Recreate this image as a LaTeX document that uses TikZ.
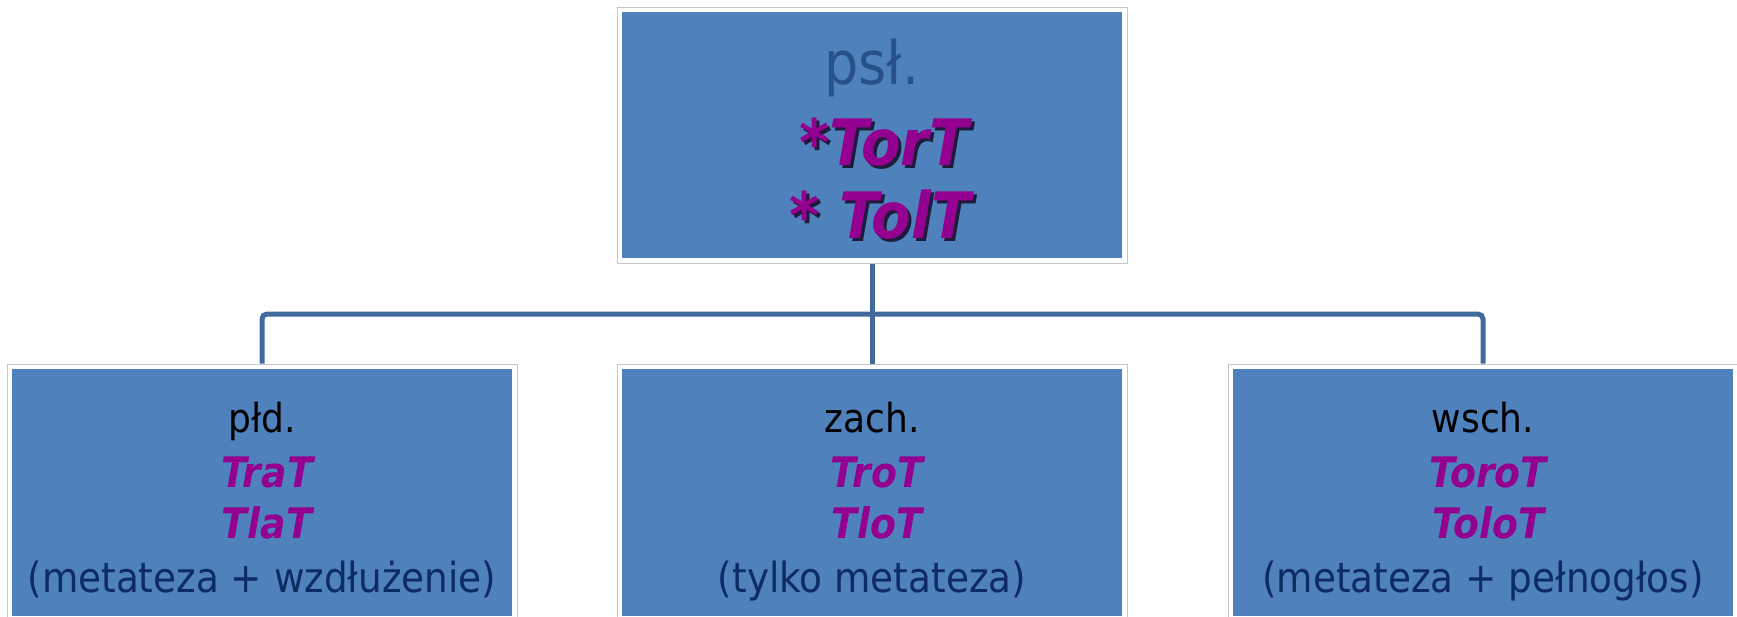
\documentclass[tikz,border=0pt]{standalone}
\usepackage{fontspec}
\setmainfont{DejaVu Sans}[FakeStretch=0.9]

\definecolor{boxblue}{HTML}{4F81BD}
\definecolor{framegray}{HTML}{C4C8CE}
\definecolor{wirecol}{HTML}{41699B}
\definecolor{rootcol}{HTML}{27518B}
\definecolor{formcol}{HTML}{94008F}
\definecolor{shadowcol}{HTML}{1C1C3A}
\definecolor{notecol}{HTML}{0D2B65}

\tikzset{
  panel/.style={rectangle, draw=framegray, line width=1pt, fill=white,
    minimum width=510pt, minimum height=#1, inner sep=0pt,
    path picture={\fill[boxblue]
      ([shift={(5pt,-5pt)}]path picture bounding box.north west) rectangle
      ([shift={(-5pt,5pt)}]path picture bounding box.south east);}},
  wire/.style={draw=wirecol, line width=5pt},
  txt/.style={inner sep=0pt, anchor=base},
  roottxt/.style={txt, text=rootcol, font=\fontsize{60}{72}\selectfont},
  bigform/.style={txt, text=formcol, font=\fontsize{64}{76}\selectfont\bfseries\itshape},
  bigshadow/.style={txt, text=shadowcol, font=\fontsize{64}{76}\selectfont\bfseries\itshape},
  headtxt/.style={txt, text=black, font=\fontsize{40}{48}\selectfont},
  formtxt/.style={txt, text=formcol, font=\fontsize{42}{50}\selectfont\bfseries\itshape},
  notetxt/.style={txt, text=notecol, font=\fontsize{41.5}{50}\selectfont},
}

\begin{document}
\begin{tikzpicture}[x=1pt,y=-1pt]
\useasboundingbox (0,0) rectangle (1737,616);
\clip (0,0) rectangle (1737,616);

% panels
\node[panel=256pt] (root) at (872,135) {};
\node[panel=257pt] (south) at (262,492.5) {};
\node[panel=257pt] (west) at (872,492.5) {};
\node[panel=257pt] (east) at (1483,492.5) {};

% tree connectors
\coordinate (bus) at (872,314);
\draw[wire] (root.south) -- (bus);
\draw[wire] (bus) -- (west.north);
\draw[wire, rounded corners=5pt] (south.north) |- (bus) -| (east.north);

% root panel text
\node[roottxt] (rootlbl) at (872,84) {psł.};
\node[bigshadow] (tortsh) at (887,168) {*TorT};
\node[bigform] (tort) at (884,165) {*TorT};
\node[bigshadow] (toltsh) at (883,241) {* TolT};
\node[bigform] (tolt) at (880,238) {* TolT};

% South Slavic
\node[headtxt] (southlbl) at (262,432) {płd.};
\node[formtxt] (trat) at (267,487) {TraT};
\node[formtxt] (tlat) at (267,538) {TlaT};
\node[notetxt] (southnote) at (262,592) {(metateza + wzdłużenie)};

% West Slavic
\node[headtxt] (westlbl) at (872,432) {zach.};
\node[formtxt] (trot) at (877,487) {TroT};
\node[formtxt] (tlot) at (877,538) {TloT};
\node[notetxt] (westnote) at (872,592) {(tylko metateza)};

% East Slavic
\node[headtxt] (eastlbl) at (1483,432) {wsch.};
\node[formtxt] (torot) at (1488,487) {ToroT};
\node[formtxt] (tolot) at (1488,538) {ToloT};
\node[notetxt] (eastnote) at (1483,592) {(metateza + pełnogłos)};
\end{tikzpicture}
\end{document}
